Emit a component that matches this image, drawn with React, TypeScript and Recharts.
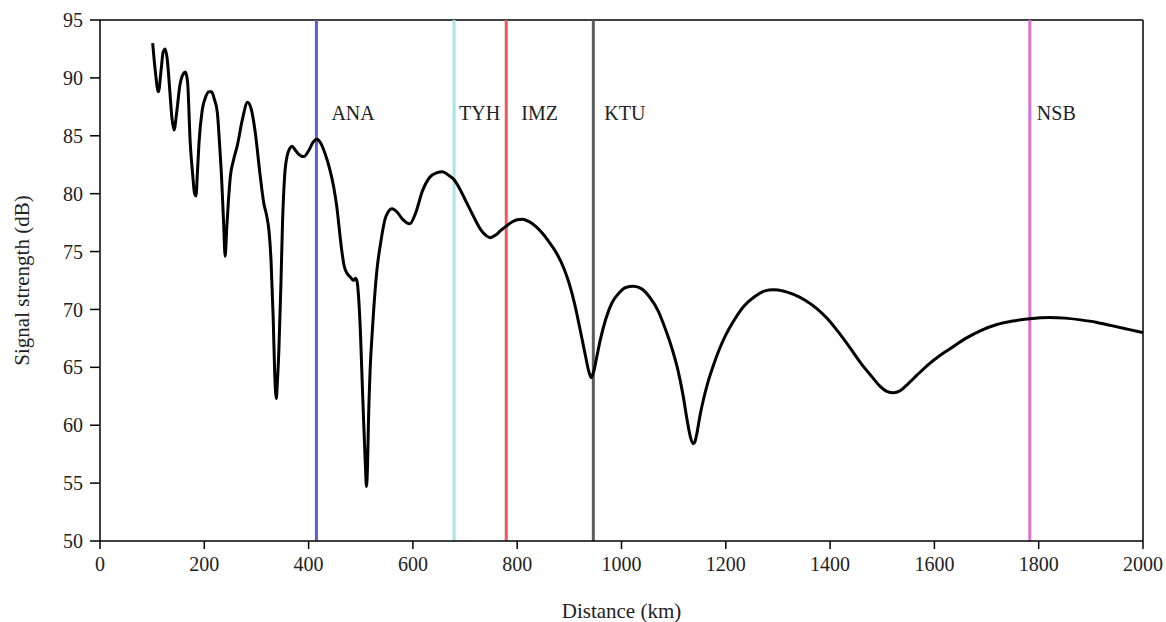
import {
  LineChart,
  Line,
  XAxis,
  YAxis,
  ReferenceLine,
  Label,
} from 'recharts'

// distance along the route (km) and the measured signal level (dB)
const distanceKm = [
  101, 106, 112, 117, 121, 125, 129, 134, 138, 142, 147, 153, 159, 164, 168, 173,
  178, 181, 184, 187, 190, 196, 203, 209, 214, 219, 225, 229, 233, 237, 240, 243,
  246, 250, 256, 263, 273, 283, 290, 298, 306, 314, 320, 324, 328, 332, 335, 338,
  340, 343, 347, 350, 354, 359, 364, 368, 374, 381, 391, 400, 408, 416, 424, 432,
  440, 448, 454, 458, 463, 468, 474, 480, 486, 490, 493, 498, 504, 509, 511, 513,
  515, 518, 522, 531, 538, 548, 560, 570, 580, 594, 605, 618, 632, 645, 657, 668,
  679, 690, 700, 710, 720, 730, 740, 748, 758, 768, 779, 790, 800, 810, 822, 835,
  848, 860, 875, 890, 900, 910, 920, 930, 937, 942, 947, 953, 960, 970, 982, 995,
  1008, 1023, 1038, 1055, 1070, 1085, 1097, 1108, 1118, 1126, 1132, 1138, 1141, 1145, 1150, 1157,
  1165, 1175, 1188, 1200, 1215, 1235, 1255, 1275, 1291, 1310, 1330, 1352, 1374, 1395, 1415, 1438,
  1460, 1480, 1495, 1510, 1521, 1535, 1550, 1566, 1590, 1610, 1630, 1660, 1690, 1720, 1750, 1783,
  1820, 1850, 1880, 1910, 1940, 1970, 2000,
]

const signalDb = [
  93.0, 90.6, 88.8, 90.6, 92.2, 92.5, 91.6, 88.8, 86.5, 85.5, 87.0, 89.3, 90.3, 90.5, 89.6, 84.4,
  81.5, 80.1, 79.8, 82.0, 84.5, 87.2, 88.4, 88.8, 88.8, 88.2, 87.0, 84.5, 81.5, 77.5, 74.6, 77.0,
  79.2, 81.5, 82.9, 84.1, 86.4, 87.9, 87.3, 85.2, 82.0, 79.2, 78.0, 76.8, 74.2, 69.4, 64.5, 62.3,
  63.6, 66.5, 72.3, 77.5, 81.5, 83.3, 83.9, 84.1, 83.8, 83.4, 83.2, 83.7, 84.4, 84.7, 84.3, 83.4,
  82.2, 80.6, 78.9, 77.3, 75.3, 73.8, 73.1, 72.8, 72.5, 72.7, 72.4, 69.4, 62.2, 56.4, 54.7, 56.5,
  60.7, 64.8, 68.0, 73.4, 75.7, 78.0, 78.7, 78.4, 77.8, 77.4, 78.3, 80.2, 81.4, 81.8, 81.9, 81.6,
  81.2, 80.4, 79.5, 78.6, 77.7, 76.9, 76.4, 76.2, 76.4, 76.8, 77.2, 77.55, 77.75, 77.8, 77.6, 77.2,
  76.6, 75.9, 74.9, 73.5, 72.2, 70.5, 68.4, 66.2, 64.7, 64.1, 64.7, 66.0, 67.5, 69.2, 70.6, 71.4,
  71.9, 72.0, 71.8, 71.0, 69.9, 68.2, 66.6, 64.8, 62.6, 60.4, 59.0, 58.4, 58.6, 59.4, 60.7, 62.2,
  63.6, 65.0, 66.6, 67.8, 69.0, 70.3, 71.1, 71.6, 71.7, 71.6, 71.3, 70.8, 70.1, 69.2, 68.1, 66.7,
  65.3, 64.2, 63.4, 62.9, 62.8, 63.0, 63.6, 64.3, 65.3, 66.0, 66.6, 67.5, 68.2, 68.7, 69.0, 69.2,
  69.3, 69.25, 69.1, 68.9, 68.6, 68.3, 68.0,
]

// stations marked along the route
const stationNames = ['ANA', 'TYH', 'IMZ', 'KTU', 'NSB']
const stationKm = [415, 679, 779, 946, 1783]

const xTicks = [0, 200, 400, 600, 800, 1000, 1200, 1400, 1600, 1800, 2000]
const yTicks = [50, 55, 60, 65, 70, 75, 80, 85, 90, 95]

const stationColor = ['#5f5fc6', '#a3e4ea', '#f05656', '#5c5c5c', '#da6fcf']
const labelGap = [15, 5, 15, 11, 7]

const data = distanceKm.map((km, i) => ({ km, db: signalDb[i] }))

const FONT = "'Liberation Serif', 'DejaVu Serif', serif"
const INK = '#222'

export default function App() {
  return (
    <div
      style={{ position: 'absolute', left: 0, top: 0, background: '#fff', fontFamily: FONT }}
    >
      <LineChart
        width={1166}
        height={622}
        data={data}
        margin={{ top: 20, right: 23, bottom: 0, left: 0 }}
        style={{ fontFamily: FONT }}
      >
        <XAxis
          dataKey="km"
          type="number"
          domain={[0, 2000]}
          ticks={xTicks}
          height={81}
          stroke="#000"
          strokeWidth={1.5}
          tickSize={8}
          tickMargin={8}
          tick={{ fontSize: 20, fill: INK, fontFamily: FONT, style: { fontFamily: FONT } }}
        >
          <Label
            content={({ viewBox }: any) => (
              <text
                x={viewBox.x + viewBox.width / 2}
                y={viewBox.y + 77}
                textAnchor="middle"
                fontSize={21}
                fill={INK}
                style={{ fontFamily: FONT }}
              >
                Distance (km)
              </text>
            )}
          />
        </XAxis>
        <YAxis
          type="number"
          domain={[50, 95]}
          ticks={yTicks}
          width={100}
          stroke="#000"
          strokeWidth={1.5}
          tickSize={10}
          tickMargin={7}
          tick={{ fontSize: 20, fill: INK, fontFamily: FONT, style: { fontFamily: FONT } }}
        >
          <Label
            content={({ viewBox }: any) => {
              const cx = viewBox.x + 22
              const cy = viewBox.y + viewBox.height / 2
              return (
                <text
                  x={cx}
                  y={cy}
                  transform={`rotate(-90, ${cx}, ${cy})`}
                  textAnchor="middle"
                  dominantBaseline="central"
                  fontSize={21}
                  fill={INK}
                  style={{ fontFamily: FONT }}
                >
                  Signal strength (dB)
                </text>
              )
            }}
          />
        </YAxis>

        {/* frame: top and right borders */}
        <ReferenceLine y={95} stroke="#000" strokeWidth={1.5} />
        <ReferenceLine x={2000} stroke="#000" strokeWidth={1.5} />

        {stationNames.map((name, i) => (
          <ReferenceLine
            key={name}
            x={stationKm[i]}
            stroke={stationColor[i]}
            strokeWidth={3}
            label={({ viewBox }: any) => (
              <text
                x={viewBox.x + labelGap[i]}
                y={viewBox.y + 100}
                fontSize={20}
                fill={INK}
                style={{ fontFamily: FONT }}
              >
                {name}
              </text>
            )}
          />
        ))}

        <Line
          type="monotone"
          dataKey="db"
          stroke="#000"
          strokeWidth={3}
          dot={false}
          activeDot={false}
          isAnimationActive={false}
        />
      </LineChart>
    </div>
  )
}
